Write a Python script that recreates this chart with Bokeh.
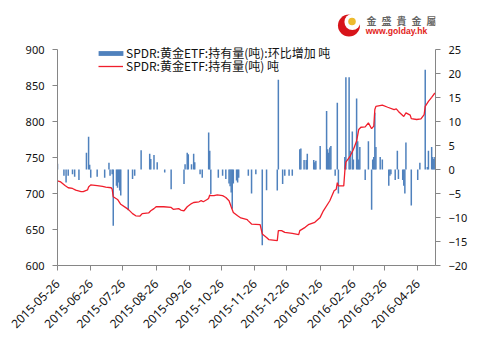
import math
import numpy as np
import pandas as pd
from bokeh.plotting import figure
from bokeh.layouts import column
from bokeh.models import (Range1d, LinearAxis, FixedTicker,
                          DatetimeTickFormatter, Legend, LegendItem)
from bokeh.core.properties import value
from bokeh.embed import file_html
from bokeh.resources import INLINE

# ---------------- data ----------------
hold_dates = [
    "2015-05-26", "2015-05-29", "2015-06-02", "2015-06-05", "2015-06-09", "2015-06-12",
    "2015-06-17", "2015-06-19", "2015-06-23", "2015-06-24", "2015-06-26", "2015-07-02",
    "2015-07-07", "2015-07-10", "2015-07-15", "2015-07-16", "2015-07-17", "2015-07-21",
    "2015-07-24", "2015-07-29", "2015-07-31", "2015-08-04", "2015-08-07", "2015-08-11",
    "2015-08-13", "2015-08-19", "2015-08-21", "2015-08-24", "2015-08-26", "2015-09-02",
    "2015-09-09", "2015-09-11", "2015-09-16", "2015-09-18", "2015-09-21", "2015-09-24",
    "2015-09-28", "2015-09-30", "2015-10-05", "2015-10-07", "2015-10-09", "2015-10-13",
    "2015-10-14", "2015-10-15", "2015-10-16", "2015-10-19", "2015-10-22", "2015-10-27",
    "2015-10-30", "2015-11-02", "2015-11-04", "2015-11-06", "2015-11-10", "2015-11-13",
    "2015-11-19", "2015-11-20", "2015-11-23", "2015-12-01", "2015-12-03", "2015-12-07",
    "2015-12-09", "2015-12-17", "2015-12-18", "2015-12-21", "2015-12-24", "2015-12-31",
    "2016-01-06", "2016-01-07", "2016-01-12", "2016-01-15", "2016-01-21", "2016-01-26",
    "2016-01-29", "2016-02-04", "2016-02-08", "2016-02-10", "2016-02-11", "2016-02-12",
    "2016-02-17", "2016-02-18", "2016-02-19", "2016-02-23", "2016-02-26", "2016-02-29",
    "2016-03-02", "2016-03-04", "2016-03-08", "2016-03-11", "2016-03-14", "2016-03-16",
    "2016-03-17", "2016-03-18", "2016-03-24", "2016-03-29", "2016-04-04", "2016-04-06",
    "2016-04-08", "2016-04-13", "2016-04-15", "2016-04-19", "2016-04-20", "2016-04-25",
    "2016-04-29", "2016-05-02", "2016-05-03", "2016-05-06", "2016-05-09", "2016-05-12",
]
hold_values = [
    717.5, 716.0, 711.0, 708.0, 707.0, 704.6,
    702.7, 702.7, 705.0, 709.0, 712.0, 711.0,
    710.0, 708.8, 708.0, 706.0, 695.4, 691.7,
    685.0, 680.0, 678.0, 672.0, 669.0, 668.7,
    672.0, 673.0, 676.0, 679.0, 681.6, 681.6,
    680.6, 678.0, 679.0, 677.0, 676.0, 681.6,
    686.0, 687.5, 688.5, 690.0, 688.5, 692.0,
    693.5, 698.0, 697.0, 697.0, 698.0, 697.0,
    694.5, 690.0, 681.6, 673.7, 669.0, 666.0,
    663.6, 662.0, 657.6, 656.7, 643.8, 639.0,
    636.0, 634.6, 648.4, 648.4, 646.0, 644.7,
    642.9, 648.4, 653.0, 656.7, 660.0, 666.8,
    676.0, 689.9, 703.7, 706.0, 715.0, 710.6,
    710.6, 731.0, 743.5, 752.0, 761.0, 772.8,
    789.0, 792.0, 792.6, 798.0, 790.0, 793.5,
    816.6, 821.0, 822.6, 819.8, 816.6, 817.5,
    814.0, 807.0, 812.0, 808.8, 804.0, 802.8,
    803.6, 809.7, 821.0, 828.0, 833.6, 839.6,
]

chg_dates = [
    "2015-05-26", "2015-06-01", "2015-06-03", "2015-06-05", "2015-06-09", "2015-06-11",
    "2015-06-15", "2015-06-22", "2015-06-24", "2015-06-25", "2015-06-26", "2015-07-02",
    "2015-07-09", "2015-07-13", "2015-07-14", "2015-07-16", "2015-07-17", "2015-07-20",
    "2015-07-21", "2015-07-22", "2015-07-23", "2015-07-24", "2015-07-31", "2015-08-04",
    "2015-08-06", "2015-08-12", "2015-08-20", "2015-08-21", "2015-08-24", "2015-08-27",
    "2015-09-03", "2015-09-09", "2015-09-21", "2015-09-22", "2015-09-24", "2015-09-25",
    "2015-09-28", "2015-09-30", "2015-10-01", "2015-10-06", "2015-10-08", "2015-10-14",
    "2015-10-15", "2015-10-16", "2015-10-23", "2015-10-27", "2015-10-30", "2015-11-02",
    "2015-11-03", "2015-11-04", "2015-11-05", "2015-11-06", "2015-11-09", "2015-11-10",
    "2015-11-11", "2015-11-20", "2015-11-23", "2015-11-27", "2015-12-03", "2015-12-07",
    "2015-12-17", "2015-12-18", "2015-12-22", "2015-12-24", "2015-12-28", "2015-12-31",
    "2016-01-07", "2016-01-08", "2016-01-11", "2016-01-13", "2016-01-14", "2016-01-20",
    "2016-01-21", "2016-01-22", "2016-01-26", "2016-02-01", "2016-02-02", "2016-02-03",
    "2016-02-04", "2016-02-05", "2016-02-09", "2016-02-11", "2016-02-12", "2016-02-18",
    "2016-02-19", "2016-02-22", "2016-02-23", "2016-02-25", "2016-02-26", "2016-02-29",
    "2016-03-01", "2016-03-02", "2016-03-03", "2016-03-08", "2016-03-11", "2016-03-14",
    "2016-03-15", "2016-03-16", "2016-03-17", "2016-03-18", "2016-03-22", "2016-03-24",
    "2016-03-30", "2016-03-31", "2016-04-01", "2016-04-05", "2016-04-07", "2016-04-08",
    "2016-04-12", "2016-04-13", "2016-04-14", "2016-04-15", "2016-04-20", "2016-04-26",
    "2016-04-28", "2016-05-03", "2016-05-05", "2016-05-06", "2016-05-09", "2016-05-10",
    "2016-05-11", "2016-05-12",
]
chg_values = [
    1.2, -1.3, -2.7, -1.3, -1.0, -1.5,
    -2.2, 3.5, 6.8, 1.0, -1.7, -1.5,
    -1.7, 1.4, -1.3, -1.0, -11.7, -3.4,
    -3.8, -2.7, -4.4, -5.4, -8.5, -2.0,
    -1.3, 4.0, 3.3, 2.2, 3.0, 1.5,
    -0.6, -4.1, -3.0, 1.1, 3.5, 3.2,
    1.1, 3.3, 1.5, -1.0, -1.7, 7.7,
    3.9, -5.1, -1.7, -1.3, -2.0, -2.9,
    -3.5, -4.8, -8.2, -2.9, -2.3, -2.7,
    -1.7, -1.3, -5.0, -1.0, -15.8, -4.3,
    -4.4, 18.7, -3.0, -1.3, -1.3, -1.3,
    4.2, 4.4, 2.0, 2.0, 3.3, 2.0,
    1.5, 1.8, 4.9, 12.2, 4.2, 3.5,
    4.6, 4.9, -1.3, 13.9, -5.0, 2.6,
    19.2, 19.2, 3.9, 7.9, 2.1, 14.8,
    5.9, 2.1, 4.7, -2.2, 5.9, -8.4,
    2.1, 2.6, 11.8, 4.7, 2.6, 2.1,
    -3.4, -1.3, -1.0, -2.2, 3.9, -2.0,
    -2.2, -3.4, -5.0, 5.6, -7.5, -2.2,
    1.4, 20.8, 0.5, 3.9, 4.7, 2.6,
    2.2, 2.6,
]

tick_dates = ["2015-05-26", "2015-06-26", "2015-07-26", "2015-08-26", "2015-09-26",
              "2015-10-26", "2015-11-26", "2015-12-26", "2016-01-26", "2016-02-26",
              "2016-03-26", "2016-04-26"]
left_ticks = [600, 650, 700, 750, 800, 850, 900]
right_ticks = [-20, -15, -10, -5, 0, 5, 10, 15, 20, 25]
legend_labels = ["SPDR:黄金ETF:持有量(吨):环比增加 吨", "SPDR:黄金ETF:持有量(吨) 吨"]
logo_name = "\u2002".join(["金", "盛", "貴", "金", "屬"])
logo_url = "www.golday.hk"

# ---------------- layout constants (page pixels) ----------------
W, H = 498, 341
TOP_H = 40                        # strip holding the logo
F_LEFT, F_RIGHT = 57, 435         # axis box left / right
AX_TOP, AX_BOTTOM = 49, 265       # y of 900 / 600
MH = H - TOP_H                    # main figure height
frame_h = AX_BOTTOM - TOP_H       # frame reaches the top of the main figure
ax_h = AX_BOTTOM - AX_TOP
y_top_left = 600 + 300 * frame_h / ax_h
y_top_right = -20 + 45 * frame_h / ax_h

hold_dt = pd.to_datetime(hold_dates)
chg_dt = pd.to_datetime(chg_dates)
tick_ms = [pd.Timestamp(d).value // 10**6 for d in tick_dates]
DAY = 86400000

# ---------------- logo strip ----------------
logo = figure(width=W, height=TOP_H, output_backend="svg", toolbar_location=None,
              x_axis_location=None, y_axis_location=None, min_border=0,
              x_range=Range1d(0, W), y_range=Range1d(TOP_H, 0))
logo.outline_line_color = None
logo.grid.visible = False
logo.background_fill_color = "white"
logo.border_fill_color = "white"
logo.circle(x=[384], y=[25], radius=14.5, fill_color="#D7141A", line_color=None)
logo.circle(x=[388.5], y=[21.5], radius=10.5, fill_color="#FFFFFF", line_color=None)
logo.circle(x=[388], y=[21], radius=5, fill_color="#EDBB2F", line_color=None)
logo.text(x=[407], y=[19.5], text=[logo_name], text_font=value("Noto Sans CJK TC"),
          text_font_size="10px", text_font_style="bold", text_color="#666666",
          text_baseline="middle")
logo.text(x=[406], y=[30], text=[logo_url], text_font=value("Liberation Sans"),
          text_font_size="8.6px", text_font_style="bold", text_color="#E2231A",
          text_baseline="middle")

# ---------------- main chart ----------------
p = figure(width=W, height=MH, x_axis_type="datetime",
           output_backend="svg", toolbar_location=None,
           min_border_left=F_LEFT, min_border_right=W - F_RIGHT, min_border_top=0,
           min_border_bottom=H - AX_BOTTOM,
           x_range=Range1d(start=pd.Timestamp("2015-05-26"), end=pd.Timestamp("2016-05-12 14:00")),
           y_range=Range1d(600, y_top_left))
p.outline_line_color = None
p.xgrid.visible = False
p.ygrid.visible = False
p.background_fill_color = "white"
p.border_fill_color = "white"

p.extra_y_ranges = {"chg": Range1d(-20, y_top_right)}

AX = "#868686"
FONT = "Noto Sans"

def style_axis(ax, size="11px", standoff=8):
    ax.axis_line_color = AX
    ax.major_tick_line_color = AX
    ax.minor_tick_line_color = None
    ax.major_tick_in = 0
    ax.major_tick_out = 5
    ax.major_label_text_font = FONT
    ax.major_label_text_font_size = size
    ax.major_label_text_color = "#111111"
    ax.major_label_standoff = standoff

p.yaxis.ticker = FixedTicker(ticks=left_ticks)
p.yaxis.bounds = (600, 900)
style_axis(p.yaxis[0])

rax = LinearAxis(y_range_name="chg", ticker=FixedTicker(ticks=right_ticks), bounds=(-20, 25))
style_axis(rax)
p.add_layout(rax, "right")

p.xaxis.ticker = FixedTicker(ticks=tick_ms)
fmt = "%Y-%m-%d"
p.xaxis.formatter = DatetimeTickFormatter(microseconds=fmt, milliseconds=fmt, seconds=fmt,
                                          minsec=fmt, minutes=fmt, hourmin=fmt, hours=fmt,
                                          days=fmt, months=fmt, years=fmt)
style_axis(p.xaxis[0], size="12px", standoff=11)
p.xaxis.major_label_orientation = math.pi / 4

rb = p.vbar(x=chg_dt, top=chg_values, bottom=0, width=1.4 * DAY, y_range_name="chg",
            fill_color="#4F81BD", line_color=None)
rl = p.line(hold_dt, hold_values, line_color="#F01E2C", line_width=1.3)

leg1 = Legend(items=[LegendItem(label=legend_labels[0], renderers=[rb])],
              location=(38, 204), padding=0, margin=0, spacing=0,
              border_line_color=None, background_fill_alpha=0,
              glyph_width=31, glyph_height=6, label_standoff=0, label_height=12,
              label_text_font="Noto Sans CJK SC", label_text_font_size="12px",
              label_text_color="#111111")
leg2 = Legend(items=[LegendItem(label=legend_labels[1], renderers=[rl])],
              location=(41, 191), padding=0, margin=0, spacing=0,
              border_line_color=None, background_fill_alpha=0,
              glyph_width=25, glyph_height=6, label_standoff=3, label_height=12,
              label_text_font="Noto Sans CJK SC", label_text_font_size="12px",
              label_text_color="#111111")
p.add_layout(leg1, "center")
p.add_layout(leg2, "center")

layout = column(logo, p, spacing=0)
open("out.html", "w").write(file_html(layout, INLINE))
